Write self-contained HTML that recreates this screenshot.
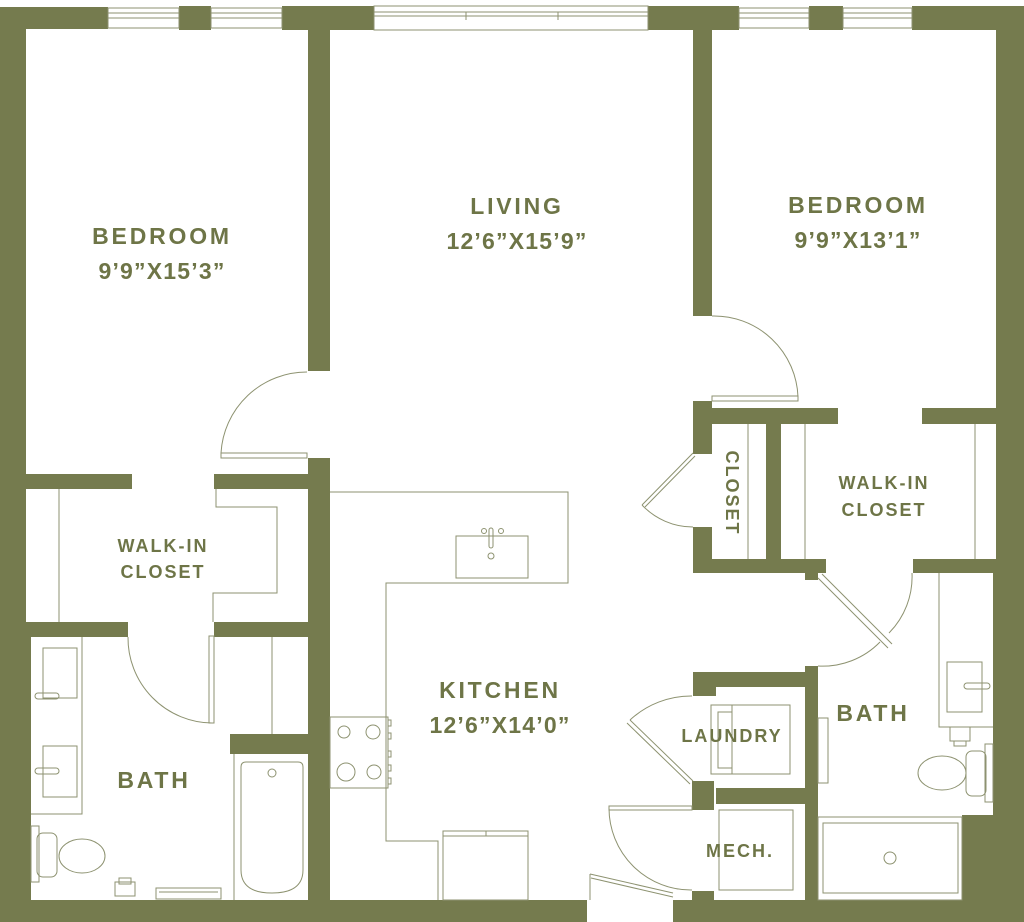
<!DOCTYPE html>
<html><head><meta charset="utf-8"><style>
html,body{margin:0;padding:0;background:#fff;}
svg{display:block;}
text{font-family:"Liberation Sans",sans-serif;font-weight:bold;fill:#6e7547;}
</style></head><body>
<svg width="1024" height="922" viewBox="0 0 1024 922" xmlns="http://www.w3.org/2000/svg">
<g fill="#757b4e">
<rect x="0" y="7" width="108" height="22"/>
<rect x="179" y="6" width="32" height="24"/>
<rect x="282" y="6" width="92" height="24"/>
<rect x="648" y="6" width="91" height="24"/>
<rect x="809" y="6" width="34" height="24"/>
<rect x="912" y="6" width="112" height="24"/>
<rect x="0" y="7" width="26" height="915"/>
<rect x="0" y="637" width="31" height="285"/>
<rect x="996" y="6" width="28" height="567"/>
<rect x="993" y="560" width="31" height="362"/>
<rect x="962" y="815" width="62" height="107"/>
<rect x="0" y="900" width="587" height="22"/>
<rect x="673" y="900" width="351" height="22"/>
<rect x="308" y="30" width="22" height="341"/>
<rect x="308" y="458" width="22" height="442"/>
<rect x="26" y="474" width="106" height="15"/>
<rect x="214" y="474" width="94" height="15"/>
<rect x="26" y="622" width="102" height="15"/>
<rect x="214" y="622" width="94" height="15"/>
<rect x="230" y="734" width="78" height="20"/>
<rect x="693" y="30" width="19" height="286"/>
<rect x="693" y="401" width="19" height="53"/>
<rect x="712" y="408" width="126" height="16"/>
<rect x="922" y="408" width="74" height="16"/>
<rect x="766" y="424" width="15" height="136"/>
<rect x="693" y="527" width="19" height="46"/>
<rect x="693" y="559" width="133" height="14"/>
<rect x="805" y="573" width="13" height="7"/>
<rect x="913" y="559" width="83" height="14"/>
<rect x="805" y="666" width="13" height="234"/>
<rect x="693" y="672" width="125" height="15"/>
<rect x="693" y="672" width="23" height="24"/>
<rect x="716" y="788" width="102" height="16"/>
<rect x="692" y="781" width="22" height="29"/>
<rect x="692" y="891" width="22" height="9"/>
</g>
<g fill="none" stroke="#8d9270" stroke-width="1">
<rect x="108" y="8" width="71" height="20"/><line x1="108" y1="13" x2="179" y2="13"/><line x1="108" y1="18" x2="179" y2="18"/>
<rect x="211" y="8" width="71" height="20"/><line x1="211" y1="13" x2="282" y2="13"/><line x1="211" y1="18" x2="282" y2="18"/>
<rect x="374" y="6" width="274" height="24"/><line x1="374" y1="12" x2="648" y2="12"/><line x1="374" y1="16" x2="648" y2="16"/><line x1="466" y1="12" x2="466" y2="20"/><line x1="558" y1="12" x2="558" y2="20"/>
<rect x="739" y="8" width="70" height="20"/><line x1="739" y1="13" x2="809" y2="13"/><line x1="739" y1="18" x2="809" y2="18"/>
<rect x="843" y="8" width="69" height="20"/><line x1="843" y1="13" x2="912" y2="13"/><line x1="843" y1="18" x2="912" y2="18"/>
<rect x="221" y="453" width="86" height="5"/>
<path d="M307 372 A86 86 0 0 0 221 453"/>
<rect x="712" y="396" width="86" height="5"/>
<path d="M712 316 A84 84 0 0 1 798 397"/>
<path d="M693 453 L642 505 M695 456 L645 507"/>
<path d="M642 505 A70 70 0 0 0 693 527"/>
<line x1="748" y1="424" x2="748" y2="559"/>
<line x1="805" y1="424" x2="805" y2="559"/>
<line x1="975" y1="424" x2="975" y2="559"/>
<path d="M818 578 L888 648 M822 574 L892 644"/>
<path d="M912 573 A80 80 0 0 1 889 633"/>
<path d="M880 642 A80 80 0 0 1 818 666"/>
<line x1="59" y1="489" x2="59" y2="622"/>
<path d="M216 489 L216 507 L277 507 L277 593 L213 593 L213 622"/>
<rect x="209" y="636" width="5" height="87"/>
<path d="M128 637 A85 85 0 0 0 212 723"/>
<line x1="272" y1="637" x2="272" y2="734"/>
<path d="M31 814 L82 814 L82 637"/>
<rect x="43" y="648" width="34" height="50"/>
<rect x="35" y="693" width="24" height="6" rx="3"/>
<rect x="43" y="746" width="34" height="51"/>
<rect x="35" y="768" width="24" height="6" rx="3"/>
<rect x="31" y="826" width="8" height="56"/>
<rect x="37" y="833" width="20" height="44" rx="6"/>
<ellipse cx="82" cy="856" rx="23" ry="17"/>
<rect x="115" y="882" width="20" height="14"/><rect x="119" y="878" width="12" height="6"/>
<rect x="156" y="888" width="65" height="11"/><line x1="159" y1="892" x2="218" y2="892"/>
<line x1="234" y1="754" x2="234" y2="900"/>
<path d="M246 762 L298 762 Q303 762 303 767 L303 870 Q303 893 272 893 Q241 893 241 870 L241 767 Q241 762 246 762 Z"/>
<circle cx="272" cy="773" r="4"/>
<path d="M330 492 L568 492 L568 583 L386 583 L386 841 L438 841 L438 900"/>
<rect x="456" y="536" width="72" height="42"/>
<circle cx="484" cy="531" r="2.5"/><circle cx="501" cy="531" r="2.5"/>
<rect x="489" y="528" width="4" height="20" rx="2"/>
<circle cx="491" cy="556" r="3"/>
<rect x="330" y="717" width="58" height="71"/>
<circle cx="344" cy="732" r="6"/><circle cx="373" cy="732" r="7"/>
<circle cx="346" cy="772" r="9"/><circle cx="374" cy="772" r="7"/>
<rect x="388" y="720" width="3" height="6"/><rect x="388" y="733" width="3" height="6"/><rect x="388" y="751" width="3" height="6"/><rect x="388" y="765" width="3" height="6"/><rect x="388" y="778" width="3" height="6"/>
<rect x="443" y="831" width="85" height="69"/><line x1="443" y1="836" x2="528" y2="836"/><line x1="486" y1="831" x2="486" y2="836"/>
<rect x="711" y="705" width="79" height="69"/>
<rect x="718" y="712" width="14" height="56"/><line x1="732" y1="705" x2="732" y2="774"/>
<path d="M693 781 L630 720 M690 784 L627 723"/>
<path d="M630 720 A90 90 0 0 1 692 696"/>
<rect x="609" y="806" width="83" height="4"/>
<path d="M609 808 A82 82 0 0 0 692 890"/>
<rect x="719" y="810" width="74" height="80"/>
<path d="M590 874 L673 893 M591 878 L673 897"/>
<line x1="590" y1="874" x2="590" y2="900"/>
<path d="M939 573 L939 727 L993 727"/>
<rect x="947" y="662" width="35" height="50"/>
<rect x="964" y="683" width="26" height="6" rx="3"/>
<rect x="950" y="727" width="20" height="14"/><rect x="954" y="741" width="12" height="5"/>
<rect x="985" y="744" width="8" height="58"/>
<rect x="966" y="751" width="20" height="45" rx="6"/>
<ellipse cx="942" cy="773" rx="24" ry="17"/>
<rect x="818" y="718" width="10" height="65"/>
<rect x="818" y="817" width="144" height="83"/>
<rect x="823" y="823" width="135" height="70"/>
<circle cx="890" cy="858" r="6"/>
</g>
<g text-anchor="middle">
<text x="162" y="244" font-size="23" letter-spacing="2.8">BEDROOM</text>
<text x="162" y="279" font-size="23" letter-spacing="1.2">9’9”X15’3”</text>
<text x="517" y="214" font-size="23" letter-spacing="2.8">LIVING</text>
<text x="517" y="249" font-size="23" letter-spacing="1.2">12’6”X15’9”</text>
<text x="858" y="213" font-size="23" letter-spacing="2.8">BEDROOM</text>
<text x="858" y="248" font-size="23" letter-spacing="1.2">9’9”X13’1”</text>
<text x="163" y="552" font-size="18" letter-spacing="2">WALK-IN</text>
<text x="163" y="578" font-size="18" letter-spacing="2">CLOSET</text>
<text x="884" y="489" font-size="18" letter-spacing="2">WALK-IN</text>
<text x="884" y="516" font-size="18" letter-spacing="2">CLOSET</text>
<text x="500" y="698" font-size="23" letter-spacing="2.8">KITCHEN</text>
<text x="500" y="733" font-size="23" letter-spacing="1.2">12’6”X14’0”</text>
<text x="154" y="788" font-size="23" letter-spacing="2.8">BATH</text>
<text x="873" y="721" font-size="23" letter-spacing="2.8">BATH</text>
<text x="732" y="742" font-size="18" letter-spacing="2">LAUNDRY</text>
<text x="740" y="857" font-size="18" letter-spacing="2">MECH.</text>
<text x="0" y="0" font-size="18" letter-spacing="2" transform="translate(726,493) rotate(90)">CLOSET</text>
</g>
</svg>
</body></html>
